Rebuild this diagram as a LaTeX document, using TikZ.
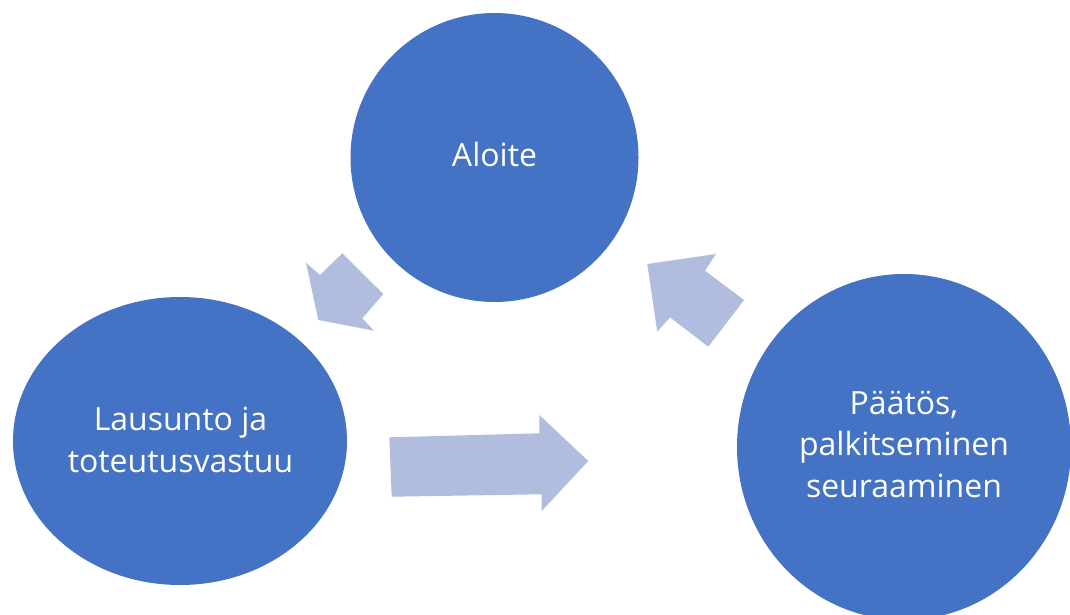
\documentclass[tikz,border=0pt]{standalone}
\usepackage{fontspec}
\setmainfont{Open Sans}
\usetikzlibrary{shapes.geometric}
\definecolor{circblue}{RGB}{68,114,196}
\definecolor{arrowblue}{RGB}{176,189,223}
\begin{document}
\begin{tikzpicture}[x=1pt,y=-1pt,
  bubble/.style={ellipse, fill=circblue, inner sep=0pt, outer sep=0pt},
  lbl/.style={text=white, align=center, font=\fontsize{32}{41.5}\selectfont, inner sep=0pt},
  blockarrow/.style={fill=arrowblue}]
\useasboundingbox (0,0) rectangle (1070,615);
\clip (0,0) rectangle (1070,615);
% circles
\node[bubble, minimum width=288pt, minimum height=289pt] (aloite) at (494.5,157.5) {};
\node[bubble, minimum width=334pt, minimum height=288pt] (lausunto) at (180,441) {};
\node[bubble, minimum width=334pt, minimum height=346pt] (paatos) at (904,447) {};
% labels
\node[lbl, anchor=base] (aloitetxt) at (494.5,166.7) {Aloite};
\node[lbl] (lausuntotxt) at (180.5,440) {Lausunto ja\\toteutusvastuu};
\node[lbl] (paatostxt) at (904,444.5) {Päätös,\\palkitseminen\\seuraaminen};
% block arrows
\fill[blockarrow] (306,262.7) -- (320,275) -- (342.3,253.3) -- (383.3,294)
  -- (362.3,318.3) -- (374,330.7) -- (318.3,320) -- cycle;
\fill[blockarrow] (647.3,264) -- (716,254) -- (705,270.7) -- (744,300)
  -- (708.3,346.7) -- (670,317.3) -- (657.3,331.7) -- cycle;
\fill[blockarrow] (389.3,437.3) -- (539.3,433.3) -- (539.3,415) -- (588.3,461)
  -- (541.7,511) -- (541.7,494.3) -- (391.7,496.7) -- cycle;
\end{tikzpicture}
\end{document}
